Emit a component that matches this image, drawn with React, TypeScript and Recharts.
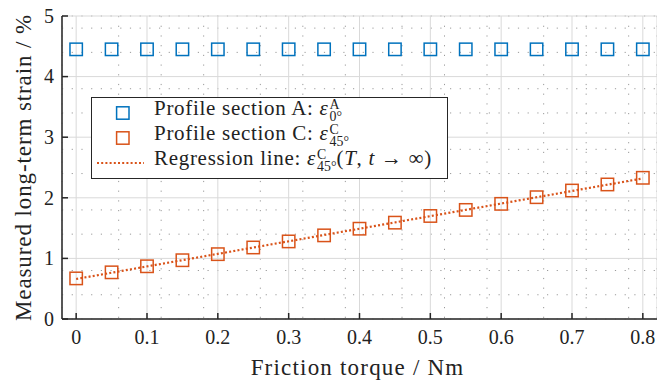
import React from 'react'
import { ComposedChart, Line, XAxis, YAxis, CartesianGrid } from 'recharts'

if (typeof document !== 'undefined') document.body.style.margin = '0'

const torque = [0, 0.05, 0.1, 0.15, 0.2, 0.25, 0.3, 0.35, 0.4, 0.45, 0.5, 0.55, 0.6, 0.65, 0.7, 0.75, 0.8]
const strainA = [4.45, 4.45, 4.45, 4.45, 4.45, 4.45, 4.45, 4.45, 4.45, 4.45, 4.45, 4.45, 4.45, 4.45, 4.45, 4.45, 4.45]
const strainC = [0.67, 0.77, 0.87, 0.97, 1.07, 1.18, 1.28, 1.38, 1.49, 1.59, 1.7, 1.8, 1.9, 2.01, 2.12, 2.22, 2.33]
const regressionX = [0, 0.8]
const regressionY = [0.66, 2.32]

const xTicks = [0, 0.1, 0.2, 0.3, 0.4, 0.5, 0.6, 0.7, 0.8]
const yTicks = [0, 1, 2, 3, 4, 5]
const xMinor = [0.02, 0.04, 0.06, 0.08, 0.12, 0.14, 0.16, 0.18, 0.22, 0.24, 0.26, 0.28, 0.32, 0.34, 0.36, 0.38,
  0.42, 0.44, 0.46, 0.48, 0.52, 0.54, 0.56, 0.58, 0.62, 0.64, 0.66, 0.68, 0.72, 0.74, 0.76, 0.78]
const yMinor = [0.2, 0.4, 0.6, 0.8, 1.2, 1.4, 1.6, 1.8, 2.2, 2.4, 2.6, 2.8, 3.2, 3.4, 3.6, 3.8, 4.2, 4.4, 4.6, 4.8]

const xLabel = 'Friction torque / Nm'
const yLabel = 'Measured long-term strain / %'

const BLUE = '#0072BD'
const ORANGE = '#D95319'
const AXIS = '#262626'
const TEXT = '#222'
const FONT = 'Liberation Serif, Times New Roman, serif'
const X_DOMAIN: [number, number] = [-0.02, 0.82]

const seriesA = torque.map((x, i) => ({ x, y: strainA[i] }))
const seriesC = torque.map((x, i) => ({ x, y: strainC[i] }))
const regression = regressionX.map((x, i) => ({ x, y: regressionY[i] }))

const square = (color: string) => (props: any) => {
  const { cx, cy, index } = props
  if (cx == null || cy == null) return <g key={index} />
  return <rect key={index} x={cx - 6.2} y={cy - 6.2} width={12.4} height={12.4} fill="none" stroke={color} strokeWidth={1.5} />
}

const SerifText = ({ children, size, spacing = 0, ...rest }: any) => (
  <text {...rest} fill={TEXT} fontFamily={FONT} fontSize={size} style={{ fontFamily: FONT, fontSize: size, letterSpacing: spacing }}>
    {children}
  </text>
)

const XTick = (props: any) => (
  <SerifText x={props.x} y={props.y} dy="0.68em" textAnchor="middle" size={20}>
    {props.payload.value}
  </SerifText>
)

const YTick = (props: any) => (
  <SerifText x={props.x} y={props.y} dy="0.34em" textAnchor="end" size={20}>
    {props.payload.value}
  </SerifText>
)

const XLabel = (props: any) => {
  const vb = props.viewBox
  return (
    <SerifText x={vb.x + vb.width / 2 - 2} y={375} textAnchor="middle" size={23} spacing={1.2}>
      {xLabel}
    </SerifText>
  )
}

const YLabel = (props: any) => {
  const vb = props.viewBox
  const cy = vb.y + vb.height / 2
  return (
    <SerifText x={24} y={cy} dy="0.32em" textAnchor="middle" transform={`rotate(-90 24 ${cy})`} size={23} spacing={0.9}>
      {yLabel}
    </SerifText>
  )
}

function Eps({ sup, sub }: { sup: string; sub: string }) {
  return (
    <span>
      <i>ε</i>
      <span style={{ display: 'inline-flex', flexDirection: 'column', fontSize: '0.66em', lineHeight: 0.92, verticalAlign: '0.45em', marginLeft: 1, letterSpacing: 0 }}>
        <span>{sup}</span>
        <span>{sub}</span>
      </span>
    </span>
  )
}

const legendRows = [
  { key: 'a', kind: 'square', color: BLUE, text: 'Profile section A: ', sup: 'A', sub: '0°', tail: false },
  { key: 'c', kind: 'square', color: ORANGE, text: 'Profile section C: ', sup: 'C', sub: '45°', tail: false },
  { key: 'r', kind: 'line', color: ORANGE, text: 'Regression line: ', sup: 'C', sub: '45°', tail: true },
]

function LegendBox() {
  return (
    <div style={{ position: 'absolute', left: 91, top: 97, border: `1.5px solid ${AXIS}`, background: '#fff', width: 357, height: 82, boxSizing: 'border-box', padding: '2.5px 0 0 0', fontFamily: FONT, fontSize: 21, color: TEXT }}>
      {legendRows.map((r) => (
        <div key={r.key} style={{ display: 'flex', alignItems: 'center', height: 25 }}>
          <svg width={62} height={20} style={{ flex: 'none' }}>
            {r.kind === 'square' ? (
              <rect x={24.6} y={3.8} width={12.4} height={12.4} fill="none" stroke={r.color} strokeWidth={1.5} />
            ) : (
              <line x1={5} x2={52} y1={10} y2={10} stroke={r.color} strokeWidth={2.2} strokeDasharray="2 2.2" />
            )}
          </svg>
          <span style={{ whiteSpace: 'nowrap', lineHeight: 1, letterSpacing: 0.7, position: 'relative', top: -2 }}>
            {r.text}
            <Eps sup={r.sup} sub={r.sub} />
            {r.tail ? (
              <span>
                (<i>T</i>, <i>t</i> → ∞)
              </span>
            ) : null}
          </span>
        </div>
      ))}
    </div>
  )
}

export default function App() {
  return (
    <div style={{ position: 'relative', width: 657, height: 382, fontFamily: FONT }}>
      <ComposedChart width={657} height={382} margin={{ top: 16, right: 0, bottom: 0, left: 0 }} style={{ fontFamily: FONT }}>
        <XAxis xAxisId="minor" type="number" dataKey="x" domain={X_DOMAIN} ticks={xMinor} hide allowDataOverflow />
        <YAxis yAxisId="minor" type="number" domain={[0, 5]} ticks={yMinor} hide allowDataOverflow />
        <CartesianGrid xAxisId="minor" yAxisId="minor" stroke="#9a9a9a" strokeDasharray="1.2 8.5" strokeWidth={1} />
        <CartesianGrid stroke="#d9d9d9" strokeWidth={1} />
        <XAxis
          type="number"
          dataKey="x"
          domain={X_DOMAIN}
          ticks={xTicks}
          allowDataOverflow
          height={63}
          tickSize={-6}
          tickMargin={17}
          tick={<XTick />}
          axisLine={{ stroke: AXIS, strokeWidth: 1.5 }}
          tickLine={{ stroke: AXIS, strokeWidth: 1.5 }}
          label={{ content: <XLabel /> }}
        />
        <XAxis
          xAxisId="top"
          orientation="top"
          type="number"
          dataKey="x"
          domain={X_DOMAIN}
          ticks={xTicks}
          allowDataOverflow
          height={0}
          tickSize={-6}
          tick={false}
          axisLine={{ stroke: AXIS, strokeWidth: 1.5 }}
          tickLine={{ stroke: AXIS, strokeWidth: 1.5 }}
        />
        <YAxis
          type="number"
          domain={[0, 5]}
          ticks={yTicks}
          allowDataOverflow
          width={62}
          tickSize={-6}
          tickMargin={14}
          tick={<YTick />}
          axisLine={{ stroke: AXIS, strokeWidth: 1.5 }}
          tickLine={{ stroke: AXIS, strokeWidth: 1.5 }}
          label={{ content: <YLabel /> }}
        />
        <YAxis
          yAxisId="right"
          orientation="right"
          type="number"
          domain={[0, 5]}
          ticks={yTicks}
          allowDataOverflow
          width={0}
          tickSize={-6}
          tick={false}
          axisLine={{ stroke: AXIS, strokeWidth: 1.5 }}
          tickLine={{ stroke: AXIS, strokeWidth: 1.5 }}
        />
        <Line data={seriesA} dataKey="y" stroke="none" dot={square(BLUE)} activeDot={false} isAnimationActive={false} />
        <Line data={seriesC} dataKey="y" stroke="none" dot={square(ORANGE)} activeDot={false} isAnimationActive={false} />
        <Line data={regression} dataKey="y" stroke={ORANGE} strokeWidth={2.2} strokeDasharray="2 2.2" dot={false} activeDot={false} isAnimationActive={false} />
      </ComposedChart>
      <LegendBox />
    </div>
  )
}
